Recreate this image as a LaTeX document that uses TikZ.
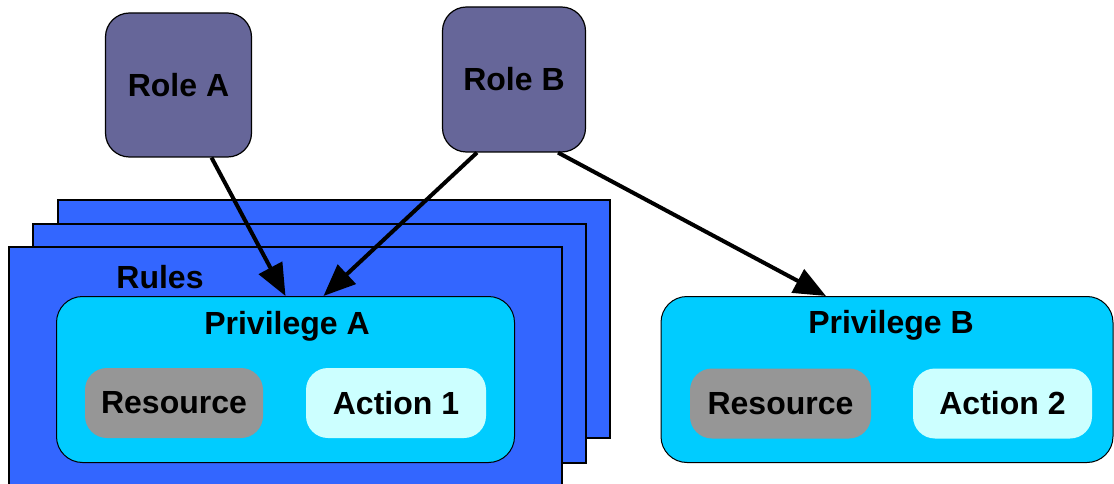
\documentclass[tikz,border=0pt]{standalone}
\usepackage{fontspec}
\setmainfont{Liberation Sans}
\usetikzlibrary{arrows.meta}
\definecolor{rolecol}{HTML}{666699}
\definecolor{rulecol}{HTML}{3366FF}
\definecolor{privcol}{HTML}{00CCFF}
\definecolor{rescol}{HTML}{969696}
\definecolor{actcol}{HTML}{CCFFFF}
\begin{document}
\begin{tikzpicture}[x = 1pt, y = -1pt,
	every node/.style = {font = \fontsize{32}{38}\selectfont\bfseries, inner sep = 0pt},
	role/.style = {draw, line width = 1.2pt, fill = rolecol, rounded corners = 24pt},
	rulebox/.style = {draw, line width = 1.8pt, fill = rulecol},
	privbox/.style = {draw, line width = 1pt, fill = privcol, rounded corners = 26pt, minimum width = 458pt, minimum height = 166pt},
	item/.style = {rounded corners = 22pt, minimum height = 70pt},
	link/.style = {line width = 4pt, -{Triangle[length = 32pt, width = 26pt]}}]
	\useasboundingbox (0,0) rectangle (1114,484);
	% stacked rule sheets, back to front
	\draw[rulebox] (58,200) rectangle (610,438);
	\draw[rulebox] (33,224) rectangle (586,463);
	\draw[rulebox] (9,247) rectangle (562,500);
	\node (rules) at (160,277) {Rules};
	% roles
	\node[role, minimum width = 146pt, minimum height = 144pt] (roleA) at (178.5,85) {Role A};
	\node[role, minimum width = 143pt, minimum height = 145pt] (roleB) at (514,79.5) {Role B};
	% privileges
	\node[privbox] (privA) at (285.5,379.5) {};
	\node (privAname) at (287,326) {Privilege A};
	\node[item, fill = rescol, minimum width = 178pt] (resA) at (174,403) {Resource};
	\node[item, fill = actcol, minimum width = 180pt] (actA) at (396,403) {Action 1};
	\node[privbox, minimum width = 452pt] (privB) at (887,379.5) {};
	\node (privBname) at (891,325) {Privilege B};
	\node[item, fill = rescol, minimum width = 181pt] (resB) at (780.5,403.5) {Resource};
	\node[item, fill = actcol, minimum width = 179pt] (actB) at (1002.5,403.5) {Action 2};
	% role to privilege links
	\draw[link] ([xshift = 33pt]roleA.south) -- (privA.north);
	\draw[link] ([xshift = -37pt]roleB.south) -- ([xshift = 38pt]privA.north);
	\draw[link] ([xshift = 44pt]roleB.south) -- ([xshift = -61pt]privB.north);
\end{tikzpicture}
\end{document}
